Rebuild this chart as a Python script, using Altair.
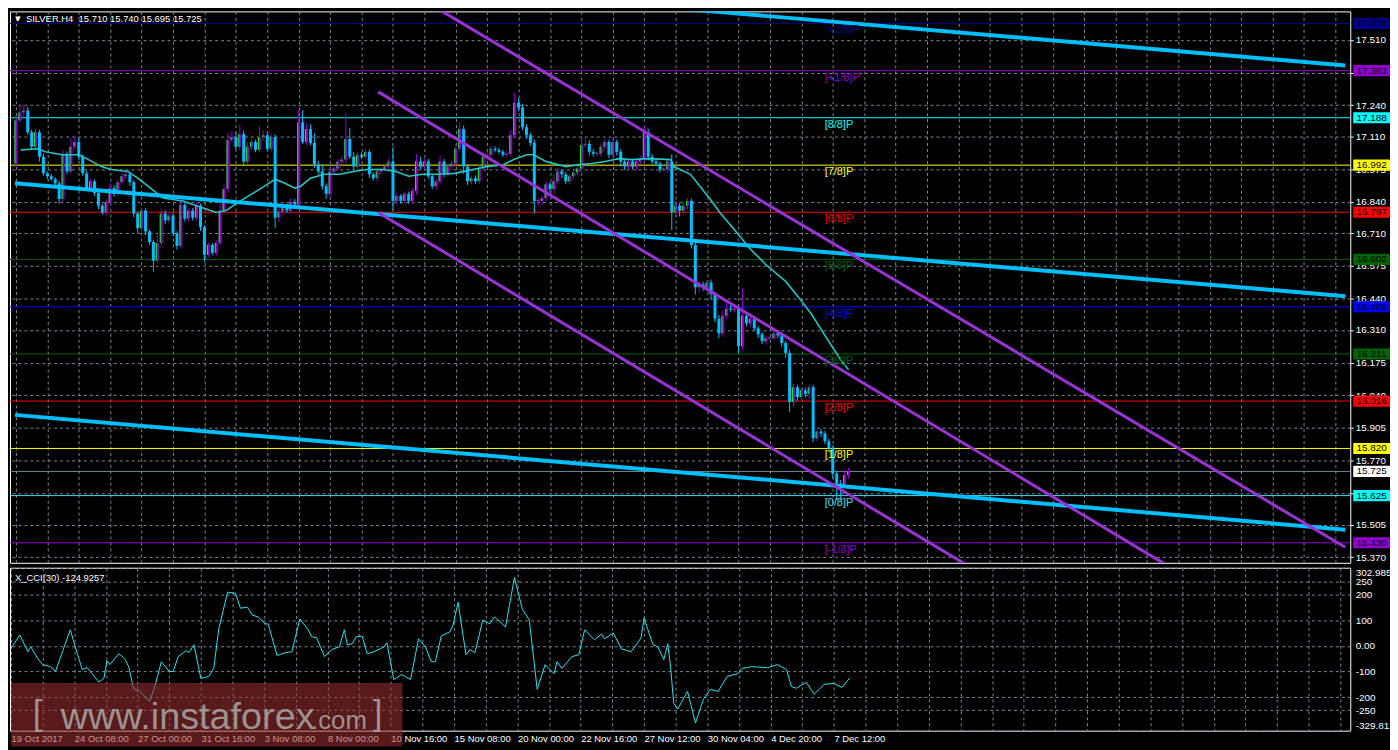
import altair as alt
import pandas as pd

# ------------------------------------------------------------------ data
symbol_title = "SILVER.H4\u00a0\u00a015.710 15.740 15.695 15.725"
cci_title = "X_CCI(30) -124.9257"
watermark_parts = ["[", "www.instaforex", ".com", "]"]

open0 = 16.999
closes = [
    17.177, 17.210, 17.218, 17.128, 17.068, 17.128, 17.027, 16.958, 16.946, 16.934,
    16.917, 16.852, 17.039, 16.966, 17.068, 17.088, 17.027, 16.958, 16.897, 16.925,
    16.877, 16.824, 16.796, 16.840, 16.897, 16.873, 16.921, 16.946, 16.954, 16.921,
    16.792, 16.731, 16.804, 16.718, 16.674, 16.597, 16.670, 16.792, 16.763, 16.783,
    16.710, 16.658, 16.828, 16.771, 16.804, 16.775, 16.824, 16.735, 16.621, 16.662,
    16.629, 16.670, 16.804, 16.893, 17.096, 17.108, 17.068, 17.120, 17.007, 17.068,
    17.088, 17.055, 17.108, 17.116, 17.060, 17.108, 16.775, 16.800, 16.824, 16.804,
    16.840, 16.830, 17.169, 17.088, 17.141, 17.084, 16.995, 16.966, 16.905, 16.873,
    16.966, 16.978, 17.007, 17.015, 17.100, 17.027, 16.986, 17.035, 17.027, 17.047,
    16.954, 16.938, 16.966, 16.974, 16.986, 17.007, 16.844, 16.865, 16.844, 16.873,
    16.844, 16.885, 17.007, 16.986, 17.007, 16.946, 16.905, 16.925, 17.007, 16.954,
    16.986, 16.999, 17.060, 17.141, 16.986, 16.925, 16.938, 16.925, 16.978, 17.027,
    17.035, 17.060, 17.055, 17.047, 17.035, 17.039, 17.116, 17.250, 17.230, 17.149,
    17.116, 17.084, 16.844, 16.844, 16.856, 16.913, 16.893, 16.925, 16.966, 16.954,
    16.925, 16.946, 16.962, 16.978, 17.076, 17.080, 17.047, 17.039, 17.039, 17.068,
    17.088, 17.035, 17.088, 17.047, 17.007, 16.986, 17.007, 16.986, 17.007, 17.019,
    17.128, 17.027, 17.007, 16.999, 16.974, 16.974, 17.007, 16.796, 16.824, 16.804,
    16.824, 16.844, 16.662, 16.487, 16.499, 16.487, 16.507, 16.459, 16.357, 16.296,
    16.369, 16.398, 16.394, 16.398, 16.243, 16.369, 16.337, 16.357, 16.317, 16.292,
    16.264, 16.276, 16.276, 16.296, 16.288, 16.256, 16.215, 16.012, 16.073, 16.032,
    16.061, 16.045, 16.073, 15.862, 15.890, 15.882, 15.850, 15.821, 15.716, 15.675,
    15.667, 15.710, 15.725,
]
upper_wick = [  # thousandths above the body
    20, 30, 25, 15, 10, 15, 10, 12, 8, 10,
    8, 10, 15, 10, 35, 25, 15, 10, 12, 10,
    8, 10, 8, 10, 20, 12, 10, 15, 10, 8,
    10, 8, 12, 10, 8, 10, 40, 20, 15, 10,
    10, 8, 15, 10, 10, 10, 12, 8, 10, 10,
    8, 12, 40, 20, 30, 25, 20, 40, 15, 20,
    15, 10, 45, 20, 12, 15, 12, 15, 10, 8,
    15, 12, 55, 50, 25, 20, 40, 15, 30, 12,
    10, 15, 12, 15, 110, 45, 20, 12, 10, 15,
    10, 8, 12, 10, 10, 15, 60, 12, 8, 10,
    10, 10, 30, 20, 12, 10, 10, 12, 25, 10,
    12, 10, 20, 30, 15, 10, 10, 12, 15, 20,
    15, 12, 10, 10, 8, 10, 20, 41, 20, 15,
    12, 10, 15, 10, 10, 12, 10, 30, 15, 10,
    10, 10, 12, 10, 25, 30, 15, 12, 10, 15,
    12, 10, 15, 10, 12, 10, 10, 8, 10, 12,
    29, 15, 10, 10, 8, 10, 12, 30, 20, 12,
    10, 12, 10, 15, 12, 10, 10, 12, 10, 15,
    20, 30, 15, 20, 10, 113, 15, 12, 10, 12,
    10, 10, 12, 15, 10, 10, 8, 12, 15, 10,
    10, 12, 12, 10, 10, 12, 10, 10, 12, 10,
    15, 20, 15,
]
lower_wick = [  # thousandths below the body
    15, 10, 20, 10, 12, 15, 20, 10, 12, 8,
    10, 20, 15, 12, 10, 12, 15, 10, 12, 10,
    12, 15, 10, 12, 10, 12, 8, 10, 12, 15,
    15, 20, 12, 15, 12, 45, 10, 12, 15, 10,
    12, 15, 10, 12, 10, 12, 10, 15, 28, 12,
    10, 12, 10, 10, 15, 12, 10, 12, 15, 10,
    12, 10, 10, 12, 10, 12, 44, 20, 15, 10,
    12, 10, 15, 10, 12, 10, 15, 12, 15, 20,
    12, 10, 8, 12, 15, 10, 10, 12, 10, 8,
    15, 10, 12, 10, 8, 10, 40, 15, 12, 10,
    12, 10, 15, 12, 10, 10, 12, 15, 10, 12,
    10, 12, 10, 12, 30, 15, 12, 10, 12, 10,
    10, 12, 10, 8, 10, 12, 10, 10, 15, 12,
    15, 12, 52, 20, 15, 12, 15, 20, 12, 15,
    12, 10, 12, 10, 12, 10, 15, 12, 10, 12,
    10, 15, 12, 15, 20, 15, 12, 10, 15, 10,
    12, 15, 12, 10, 12, 10, 15, 74, 20, 25,
    15, 15, 15, 30, 20, 15, 12, 20, 15, 20,
    15, 12, 10, 12, 28, 15, 12, 15, 12, 15,
    12, 15, 12, 10, 12, 15, 20, 41, 20, 15,
    12, 15, 20, 15, 12, 15, 12, 15, 20, 69,
    60, 10, 15,
]

ma_bars = [1.25, 5.5, 7.5, 11.75, 16, 18.5, 21.75, 24.25, 28.5, 31,
           34.25, 37.5, 42.5, 47.5, 51, 53.5, 56, 59.25, 62.5, 66,
           68.5, 71, 72.5, 75, 78.5, 82.5, 86, 89.25, 93.5, 96.75,
           100, 103.5, 107.5, 111.75, 120, 124.25, 126.75, 130, 131.75, 135,
           140, 143.5, 146.75, 150, 153.5, 156.75, 161, 166.75, 167.5, 171.75,
           176.75, 179.25, 183.5, 186.75, 191, 196, 199.25, 202.5, 206.75, 210,
           212]
ma_vals = [17.055, 17.060, 17.047, 17.035, 17.035, 17.015, 16.986, 16.974, 16.966, 16.938,
           16.897, 16.856, 16.844, 16.816, 16.796, 16.804, 16.832, 16.865, 16.897, 16.934,
           16.917, 16.897, 16.905, 16.938, 16.954, 16.954, 16.966, 16.974, 16.974, 16.966,
           16.946, 16.954, 16.954, 16.958, 16.986, 16.995, 17.015, 17.035, 17.035, 17.007,
           16.986, 16.995, 16.999, 17.007, 17.019, 17.015, 17.019, 17.015, 16.986, 16.954,
           16.852, 16.796, 16.714, 16.649, 16.580, 16.511, 16.446, 16.377, 16.268, 16.187,
           16.146]

cci_bars = [0, 2.25, 4.25, 5, 6.75, 8, 10, 11.25, 13, 15,
            16.25, 18, 19.25, 22.25, 23.5, 24.25, 25, 27.25, 28.75, 29.75,
            31, 32.5, 35, 36.25, 38, 40, 41, 42.25, 44.25, 45,
            46.25, 48, 50, 51.25, 52.5, 54.75, 56.75, 58, 59.75, 61,
            62.5, 64.25, 65, 67.25, 69.25, 71, 73, 75, 76, 77.25,
            79.25, 81, 83, 84.25, 85, 86.25, 87.25, 88.75, 90, 91.75,
            94.25, 95, 96.75, 98.75, 101, 103, 104.75, 106.25, 107.25, 108.75,
            111, 111.75, 113, 115, 116, 117.25, 119.25, 121, 122.25, 125,
            127.25, 129.25, 131, 133, 135, 137.25, 138, 139.25, 141.75, 143.5,
            145, 147.5, 149.25, 150, 152.25, 154.25, 156.75, 159.25, 160, 162.25,
            163.5, 165, 166, 166.75, 167.5, 168.5, 171, 173, 175, 176.75,
            178.75, 181, 183.75, 184.75, 187.25, 191.25, 193.75, 196, 197.25, 198.5,
            201, 203, 205.5, 208, 210, 212]
cci_vals = [-10, 42, -23, -4, -49, -73, -81, -100, -23, 62,
            -4, -92, -85, -141, -126, -58, -73, -31, -50, -81,
            -169, -177, -215, -165, -62, -100, -100, -42, -19, -26,
            4, -127, -119, -88, 65, 208, 204, 146, 150, 119,
            112, 85, 85, -38, -27, -23, 104, 65, 35, 31,
            -42, -15, -4, 62, 4, 8, 35, 38, -31, -23,
            -4, 12, -131, -112, -131, 27, -4, -62, -62, 38,
            55, 81, 169, -35, -15, -27, 100, 85, 112, 73,
            265, 142, 100, -169, -73, -108, -62, -88, -42, -35,
            62, 23, 46, 27, 50, -12, -23, 31, 108, 4,
            -4, -54, 8, -88, -223, -246, -177, -300, -208, -169,
            -177, -119, -108, -88, -81, -85, -73, -92, -158, -165,
            -142, -188, -150, -146, -162, -125]

time_labels = ['19 Oct 2017', '24 Oct 08:00', '27 Oct 00:00', '31 Oct 16:00',
               '3 Nov 08:00', '8 Nov 00:00', '10 Nov 16:00', '15 Nov 08:00',
               '20 Nov 00:00', '22 Nov 16:00', '27 Nov 12:00', '30 Nov 04:00',
               '4 Dec 20:00', '7 Dec 12:00']
price_ticks = [17.510, 17.375, 17.240, 17.110, 16.975, 16.840, 16.710, 16.575, 16.440,
               16.310, 16.175, 16.040, 15.905, 15.770, 15.635, 15.505, 15.370]
cci_ticks = [302.9856, 250, 200, 100, 0, -100, -200, -250, -329.812]

mm_names = ['[+2/8]P', '[+1/8]P', '[8/8]P', '[7/8]P', '[6/8]P', '[5/8]P',
            '[4/8]P', '[3/8]P', '[2/8]P', '[1/8]P', '[0/8]P', '[-1/8]P']
mm_levels = [17.578, 17.383, 17.188, 16.992, 16.797, 16.602,
             16.406, 16.211, 16.016, 15.820, 15.625, 15.430]
mm_colors = ['#00008B', '#9400D3', '#00FFFF', '#FFFF00', '#FF0000', '#006400',
             '#0000FF', '#006400', '#FF0000', '#FFFF00', '#40E0F0', '#9400D3']
current_price = 15.725

blue_line_id = ['a', 'a', 'b', 'b', 'c', 'c']
blue_line_bar = [-0.25, 338.5, -0.25, 338.5, -0.25, 338.5]
blue_line_price = [17.875, 17.404, 16.917, 16.450, 15.959, 15.484]
purple_line_id = ['u', 'u', 'm', 'm', 'l', 'l']
purple_line_bar = [92.25, 338.5, 92.25, 338.5, 92.25, 338.5]
purple_line_price = [17.785, 15.411, 17.295, 14.894, 16.796, 14.400]

# ------------------------------------------------------------------ style
W, H1, H2 = 1349, 555, 164
BULL, BEAR, UPGREEN = '#9400D3', '#00BFFF', '#00FF00'
GRID = '#7A8794'
FONT = 'Liberation Sans'
grid_bars = list(range(0, 337, 8))

xs = alt.Scale(domain=[-0.25, 338.5], nice=False, zero=False)
ys = alt.Scale(domain=[15.347, 17.628], nice=False, zero=False)
cs = alt.Scale(domain=[-329.812, 302.9856], nice=False, zero=False)

x_price_axis = alt.Axis(values=grid_bars, grid=True, labels=False, ticks=False, domain=False,
                        title=None, gridColor=GRID, gridDash=[3, 3], gridOpacity=1)
y_price_axis = alt.Axis(orient='right', values=price_ticks, format='.3f', grid=True,
                        gridColor=GRID, gridDash=[3, 3], gridOpacity=1, domain=False,
                        tickColor='white', tickSize=3, labelColor='white', labelFont=FONT,
                        labelFontSize=10, labelPadding=2, title=None, labelOverlap=False)


def PX(f):
    return alt.X(f + ':Q', scale=xs, axis=x_price_axis)


def PY(f):
    return alt.Y(f + ':Q', scale=ys, axis=y_price_axis)


# ------------------------------------------------------------------ frames
n = len(closes)
opens = [open0] + closes[:-1]
rows = []
for i in range(n):
    o, c = opens[i], closes[i]
    top, bot = max(o, c), min(o, c)
    hi = top + upper_wick[i] / 1000.0
    lo = bot - lower_wick[i] / 1000.0
    if top - bot < 0.004:
        top = bot + 0.004
    rows.append(dict(bar=i, open=o, close=c, high=hi, low=lo, btop=top, bbot=bot,
                     bull=bool(c >= o), col=BULL if c >= o else BEAR))
candles = pd.DataFrame(rows)

mm = pd.DataFrame({'name': mm_names, 'level': mm_levels, 'color': mm_colors})
boxes = pd.DataFrame({'level': mm_levels + [current_price],
                      'color': mm_colors[:10] + ['#00FFFF', '#9400D3'] + ['#FFFFFF']})
boxes.loc[10, 'color'] = '#00FFFF'
ma = pd.DataFrame({'bar': ma_bars, 'price': ma_vals})
cci = pd.DataFrame({'bar': cci_bars, 'cci': cci_vals})
blue = pd.DataFrame({'id': blue_line_id, 'bar': blue_line_bar, 'price': blue_line_price})
purple = pd.DataFrame({'id': purple_line_id, 'bar': purple_line_bar, 'price': purple_line_price})
one = pd.DataFrame({'k': [0]})

# ------------------------------------------------------------------ price pane
mm_lines = alt.Chart(mm).mark_rule(strokeWidth=1).encode(
    y=PY('level'), color=alt.Color('color:N', scale=None))
cur_line = alt.Chart(pd.DataFrame({'level': [current_price]})).mark_rule(
    strokeWidth=1, color='#778899').encode(y=PY('level'))

wicks = alt.Chart(candles).mark_rule(strokeWidth=1).encode(
    x=PX('bar'), y=PY('low'), y2='high', color=alt.Color('col:N', scale=None))
bodies = alt.Chart(candles).mark_bar(size=3).encode(
    x=PX('bar'), y=PY('bbot'), y2='btop', color=alt.Color('col:N', scale=None))
greens = alt.Chart(candles).transform_filter('datum.bull').mark_rule(
    strokeWidth=1, xOffset=-1, color=UPGREEN).encode(x=PX('bar'), y=PY('bbot'), y2='btop')

ma_line = alt.Chart(ma).mark_line(strokeWidth=1.6, color='#22C6C6').encode(
    x=PX('bar'), y=PY('price'))
blue_lines = alt.Chart(blue).mark_line(strokeWidth=4, color='#00BFFF', clip=True).encode(
    x=PX('bar'), y=PY('price'), detail='id:N')
purple_lines = alt.Chart(purple).mark_line(strokeWidth=3, color='#9A32D6', clip=True).encode(
    x=PX('bar'), y=PY('price'), detail='id:N')

mm_text = alt.Chart(mm).mark_text(align='left', baseline='top', dy=1, font=FONT,
                                  fontSize=11).encode(
    x=alt.value(820), y=PY('level'), text='name:N', color=alt.Color('color:N', scale=None))

box_rect = alt.Chart(boxes).transform_calculate(
    top='datum.level + 0.023', bot='datum.level - 0.023').mark_rect().encode(
    x=alt.value(1352), x2=alt.value(1389), y=PY('top'), y2='bot',
    color=alt.Color('color:N', scale=None))
box_text = alt.Chart(boxes).mark_text(font=FONT, fontSize=10, color='black',
                                      align='center', baseline='middle').encode(
    x=alt.value(1370.5), y=PY('level'), text=alt.Text('level:Q', format='.3f'))

tri = alt.Chart(one).mark_text(text='\u25bc', font='DejaVu Sans', fontSize=7, color='white',
                               align='center', baseline='middle').encode(
    x=alt.value(8), y=alt.value(8))
title = alt.Chart(one).mark_text(text=symbol_title, font=FONT, fontSize=9.5, color='white',
                                 align='left', baseline='middle').encode(
    x=alt.value(16), y=alt.value(8))

price = alt.layer(mm_lines, cur_line, wicks, bodies, greens, ma_line, blue_lines,
                  purple_lines, mm_text, box_rect, box_text, tri, title).properties(
    width=W, height=H1)

# ------------------------------------------------------------------ CCI pane
lab_js = "[" + ",".join("'" + t + "'" for t in time_labels) + "]"
x_cci_axis = alt.Axis(values=grid_bars, grid=True, gridColor=GRID, gridDash=[3, 3],
                      gridOpacity=1, ticks=False, domain=False, title=None,
                      labelColor='white', labelFont=FONT, labelFontSize=9.5,
                      labelAlign='left', labelPadding=3, labelOverlap=False,
                      labelBound=False, labelFlush=False,
                      labelExpr="(datum.value % 16 == 0 && datum.value <= 208) ? "
                                + lab_js + "[datum.value / 16] : ''")
y_cci_axis = alt.Axis(orient='right', values=cci_ticks,
                      labelExpr="datum.value == 0 ? '0.00' : '' + datum.value",
                      grid=True, gridColor=GRID, gridDash=[3, 3], gridOpacity=1,
                      domain=False, ticks=False, labelColor='white', labelFont=FONT,
                      labelFontSize=10, labelPadding=5, labelFlush=True,
                      labelOverlap=False, title=None)

cci_line = alt.Chart(cci).mark_line(strokeWidth=1, color='#25E4F0').encode(
    x=alt.X('bar:Q', scale=xs, axis=x_cci_axis),
    y=alt.Y('cci:Q', scale=cs, axis=y_cci_axis))
cci_label = alt.Chart(one).mark_text(text=cci_title, font=FONT, fontSize=9.5, color='white',
                                     align='left', baseline='middle').encode(
    x=alt.value(5), y=alt.value(10))

wm_box = alt.Chart(one).mark_rect(fill='#A03030', opacity=0.55).encode(
    x=alt.value(1), x2=alt.value(395), y=alt.value(116), y2=alt.value(180))
wm_style = dict(font=FONT, color='#A8A8A8', opacity=0.85, align='left', baseline='alphabetic')
wm1 = alt.Chart(one).mark_text(text=watermark_parts[0], fontSize=35, **wm_style).encode(
    x=alt.value(23), y=alt.value(158))
wm2 = alt.Chart(one).mark_text(text=watermark_parts[1], fontSize=38, **wm_style).encode(
    x=alt.value(51), y=alt.value(162))
wm3 = alt.Chart(one).mark_text(text=watermark_parts[2], fontSize=26, **wm_style).encode(
    x=alt.value(303), y=alt.value(162))
wm4 = alt.Chart(one).mark_text(text=watermark_parts[3], fontSize=35, **wm_style).encode(
    x=alt.value(365), y=alt.value(158))

cci_pane = alt.layer(cci_line, cci_label, wm_box, wm1, wm2, wm3, wm4).properties(
    width=W, height=H2)

chart = alt.vconcat(price, cci_pane, spacing=3,
                    padding={'left': 0, 'top': 0, 'right': -8, 'bottom': 0}).configure(
    background='black').configure_view(stroke='white', strokeWidth=1)

chart.save("out.html", embed_options={"renderer": "svg", "actions": False})
